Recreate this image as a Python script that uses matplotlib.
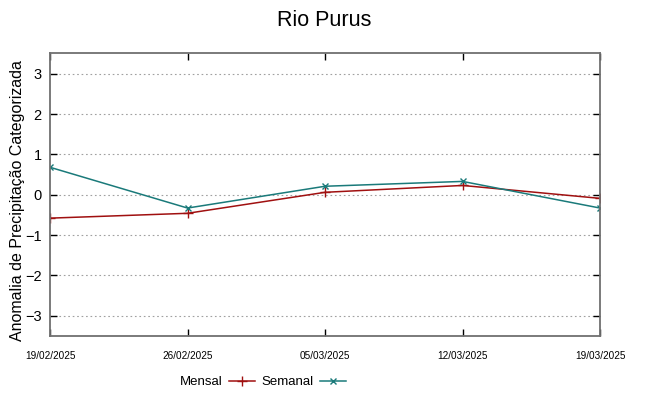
import matplotlib.pyplot as plt
from datetime import datetime

plt.rcParams['font.family'] = ['Liberation Sans', 'DejaVu Sans']

dateLabels = ["19/02/2025", "26/02/2025", "05/03/2025", "12/03/2025", "19/03/2025"]
mensal = [-0.58, -0.46, 0.06, 0.23, -0.09]
semanal = [0.68, -0.33, 0.21, 0.33, -0.33]
yTicks = [-3, -2, -1, 0, 1, 2, 3]

dates = [datetime.strptime(d, "%d/%m/%Y") for d in dateLabels]

fig = plt.figure(figsize=(6.48, 3.96), dpi=100)
ax = fig.add_axes([0.0772, 0.1515, 0.8488, 0.7135])

ax.plot(dates, mensal, color="#a01010", lw=1.1, marker="+", ms=7, mew=1.0, label="Mensal")
ax.plot(dates, semanal, color="#1a7a7a", lw=1.1, marker="x", ms=5, mew=1.0, label="Semanal")

ax.set_xlim(dates[0], dates[-1])
ax.set_ylim(-3.5, 3.5)
ax.set_yticks(yTicks)
ax.set_xticks(dates)
ax.set_xticklabels(dateLabels, fontsize=7.2)
ax.tick_params(axis="y", labelsize=10.5, direction="in", right=True, length=5, width=1, pad=6)
ax.tick_params(axis="x", direction="in", top=True, length=5, width=1, pad=10.5)
ax.grid(axis="y", color="#a0a0a0", linestyle=(0, (1.5, 2.5)), lw=0.8)

for s in ax.spines.values():
    s.set_color("#707070")
    s.set_linewidth(1.3)

ax.set_ylabel("Anomalia de Precipitação Categorizada", fontsize=11.5)
ax.yaxis.set_label_coords(-0.045, 0.48)
fig.suptitle("Rio Purus", fontsize=15.5, y=0.975)

fig.legend(loc="center", ncol=2, frameon=False, markerfirst=False, fontsize=9.5,
           bbox_to_anchor=(0.406, 0.035), handlelength=2.0, columnspacing=0.5, handletextpad=0.45)

fig.savefig("out.png", dpi=100)
